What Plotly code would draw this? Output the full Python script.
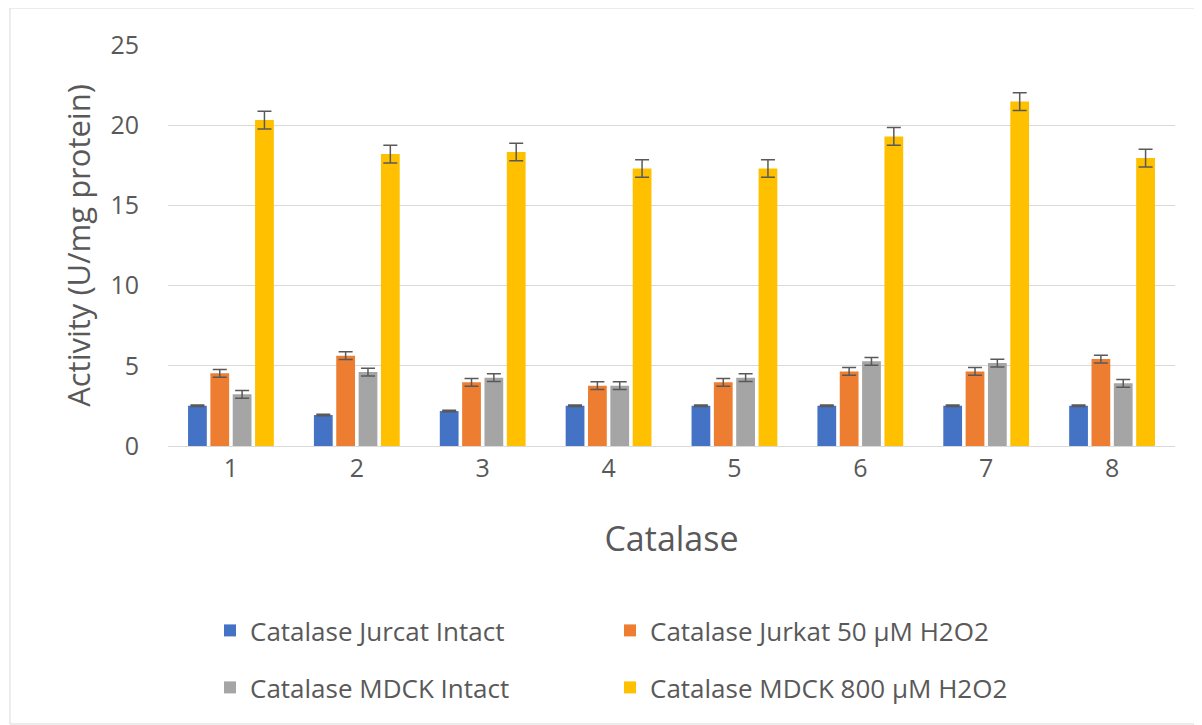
import plotly.graph_objects as go

categories = ["1", "2", "3", "4", "5", "6", "7", "8"]
series_names = [
    "Catalase Jurcat Intact",
    "Catalase Jurkat 50 µM H2O2",
    "Catalase MDCK Intact",
    "Catalase MDCK 800 µM H2O2",
]
jurkat_intact = [2.51, 1.93, 2.18, 2.51, 2.51, 2.51, 2.51, 2.51]
jurkat_h2o2 = [4.53, 5.63, 3.97, 3.76, 3.97, 4.65, 4.65, 5.42]
mdck_intact = [3.22, 4.61, 4.26, 3.76, 4.26, 5.28, 5.17, 3.91]
mdck_h2o2 = [20.32, 18.2, 18.33, 17.3, 17.3, 19.3, 21.47, 17.95]
err_jurkat_intact = [0.05] * 8
err_jurkat_h2o2 = [0.24] * 8
err_mdck_intact = [0.24] * 8
err_mdck_h2o2 = [0.55] * 8
colors = ["#4472C4", "#ED7D31", "#A5A5A5", "#FFC000"]
y_ticks = [0, 5, 10, 15, 20, 25]

values = [jurkat_intact, jurkat_h2o2, mdck_intact, mdck_h2o2]
errors = [err_jurkat_intact, err_jurkat_h2o2, err_mdck_intact, err_mdck_h2o2]
legend_ids = ["legend", "legend", "legend2", "legend2"]

FONT = "'Open Sans', Lato, sans-serif"
TXT = "#595959"

fig = go.Figure()
for name, vals, errs, col, lg in zip(series_names, values, errors, colors, legend_ids):
    fig.add_trace(go.Bar(
        name=name, x=categories, y=vals,
        marker=dict(color=col, line=dict(width=0)),
        error_y=dict(type="data", array=errs, visible=True, color="#595959",
                     thickness=1.5, width=7),
        legend=lg,
    ))

# page has an 8px body margin; work in window pixels and convert
OFF = 8
W, H = 1202 - OFF, 725 - OFF
PL, PR, PT, PB = 168, 1175, 45, 446   # plot area in window pixels
L, T = PL - OFF, PT - OFF
R, B = W - (PR - OFF), H - (PB - OFF)
pw, ph = PR - PL, PB - PT

def px_x(p):
    return (p - PL) / pw

def px_y(p):
    return (PB - p) / ph

fig.update_layout(
    width=W, height=H,
    margin=dict(l=L, r=R, t=T, b=B, autoexpand=False),
    paper_bgcolor="white", plot_bgcolor="white",
    barmode="group", bargap=0.29, bargroupgap=0.16,
    font=dict(family=FONT, color=TXT),
    xaxis=dict(
        type="category", showgrid=False, showline=True, linecolor="#d9d9d9",
        linewidth=1, ticks="", tickfont=dict(size=25, color=TXT),
        title=dict(text="Catalase", font=dict(size=34, color=TXT), standoff=44),
        automargin=False,
    ),
    yaxis=dict(
        range=[0, 25], tickvals=y_ticks, showgrid=True, gridcolor="#d9d9d9",
        gridwidth=1, zeroline=False, showline=False, ticks="",
        ticklabelstandoff=28, tickfont=dict(size=25, color=TXT),
        title=dict(text="Activity (U/mg protein)", font=dict(size=31, color=TXT), standoff=10),
        automargin=False,
    ),
    legend=dict(
        orientation="h", x=px_x(210), y=px_y(607), xanchor="left", yanchor="top",
        entrywidth=355, entrywidthmode="pixels", font=dict(size=26, color=TXT),
        bgcolor="rgba(0,0,0,0)", traceorder="normal",
    ),
    legend2=dict(
        orientation="h", x=px_x(210), y=px_y(664), xanchor="left", yanchor="top",
        entrywidth=355, entrywidthmode="pixels", font=dict(size=26, color=TXT),
        bgcolor="rgba(0,0,0,0)", traceorder="normal",
    ),
    shapes=[dict(
        type="rect", xref="paper", yref="paper",
        x0=px_x(10), x1=px_x(1196), y0=px_y(724), y1=px_y(8),
        line=dict(color="#d9d9d9", width=1), fillcolor="rgba(0,0,0,0)",
        layer="below",
    )],
)

fig.write_html("out.html")
